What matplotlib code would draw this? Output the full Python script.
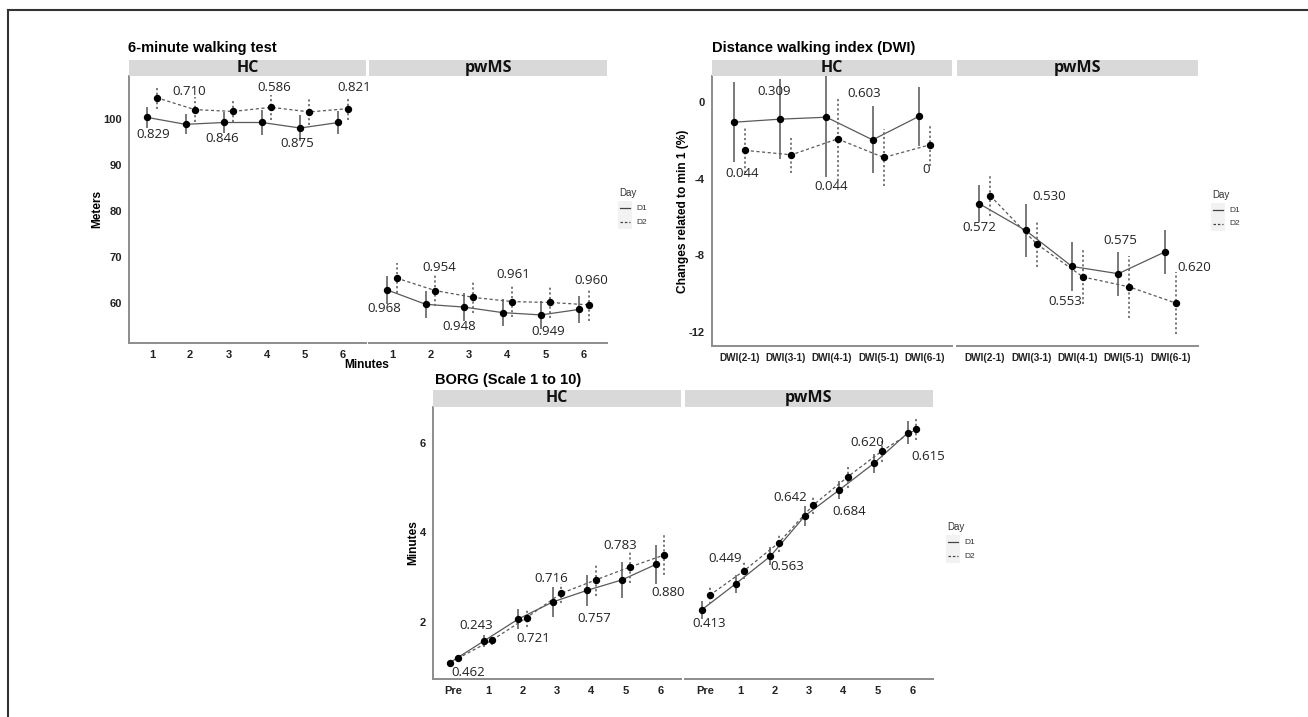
import matplotlib.pyplot as plt
from matplotlib.lines import Line2D
from matplotlib.patches import Rectangle

plt.rcParams['axes.unicode_minus'] = False

W, H = 1308, 717

# 6-minute walking test (meters), D1 / D2 means and error bars
minutes = ['1', '2', '3', '4', '5', '6']
mwt_hc_d1 = [100.3, 98.8, 99.2, 99.2, 98.0, 99.2]
mwt_hc_d1_err = [2.2, 2.2, 2.3, 2.7, 2.9, 2.5]
mwt_hc_d2 = [104.6, 102.0, 101.6, 102.5, 101.5, 102.2]
mwt_hc_d2_err = [2.4, 2.8, 2.3, 2.7, 2.8, 2.5]
mwt_hc_p = ['0.829', '0.710', '0.846', '0.586', '0.875', '0.821']
mwt_ms_d1 = [62.8, 59.7, 59.1, 57.9, 57.4, 58.6]
mwt_ms_d1_err = [3.1, 3.0, 3.1, 3.0, 3.1, 3.0]
mwt_ms_d2 = [65.4, 62.7, 61.2, 60.3, 60.1, 59.6]
mwt_ms_d2_err = [3.3, 3.3, 3.4, 3.3, 3.4, 3.5]
mwt_ms_p = ['0.968', '0.954', '0.948', '0.961', '0.949', '0.960']

# Distance walking index (% change related to min 1)
dwi_cats = ['DWI(2-1)', 'DWI(3-1)', 'DWI(4-1)', 'DWI(5-1)', 'DWI(6-1)']
dwi_hc_d1 = [-1.06, -0.90, -0.80, -1.98, -0.76]
dwi_hc_d1_err = [2.1, 2.1, 3.1, 1.75, 1.55]
dwi_hc_d2 = [-2.53, -2.76, -1.93, -2.90, -2.24]
dwi_hc_d2_err = [1.2, 0.95, 2.2, 1.5, 1.1]
dwi_hc_p = ['0.044', '0.309', '0.044', '0.603', '0']
dwi_ms_d1 = [-5.31, -6.70, -8.58, -8.96, -7.83]
dwi_ms_d1_err = [0.95, 1.4, 1.26, 1.15, 1.14]
dwi_ms_d2 = [-4.90, -7.41, -9.13, -9.65, -10.49]
dwi_ms_d2_err = [1.05, 1.2, 1.4, 1.6, 1.6]
dwi_ms_p = ['0.572', '0.530', '0.553', '0.575', '0.620']

# BORG scale
borg_cats = ['Pre', '1', '2', '3', '4', '5', '6']
borg_hc_d1 = [1.09, 1.58, 2.07, 2.45, 2.71, 2.94, 3.29]
borg_hc_d1_err = [0.05, 0.13, 0.22, 0.33, 0.35, 0.40, 0.43]
borg_hc_d2 = [1.19, 1.60, 2.10, 2.64, 2.94, 3.23, 3.50]
borg_hc_d2_err = [0.03, 0.12, 0.20, 0.22, 0.36, 0.36, 0.45]
borg_hc_p = ['0.462', '0.243', '0.721', '0.716', '0.757', '0.783', '0.880']
borg_ms_d1 = [2.27, 2.86, 3.47, 4.37, 4.95, 5.54, 6.23]
borg_ms_d1_err = [0.19, 0.20, 0.20, 0.23, 0.20, 0.21, 0.26]
borg_ms_d2 = [2.60, 3.15, 3.77, 4.61, 5.24, 5.82, 6.31]
borg_ms_d2_err = [0.20, 0.19, 0.20, 0.20, 0.24, 0.24, 0.25]
borg_ms_p = ['0.413', '0.449', '0.563', '0.642', '0.684', '0.620', '0.615']

# where the p-value labels sit (data coordinates of each facet)
mwt_hc_lab = [(1.03, 96.5), (1.97, 105.9), (2.83, 95.7), (4.19, 106.7), (4.79, 94.6), (6.29, 106.7)]
mwt_ms_lab = [(0.79, 58.7), (2.24, 67.8), (2.76, 54.8), (4.16, 66.1), (5.08, 53.7), (6.18, 64.8)]
dwi_hc_lab = [(1.06, -3.75), (1.75, 0.52), (2.99, -4.43), (3.70, 0.42), (5.03, -3.54)]
dwi_ms_lab = [(0.89, -6.56), (2.38, -4.95), (2.74, -10.42), (3.92, -7.24), (5.52, -8.65)]
borg_hc_lab = [(1.43, 0.88), (1.64, 1.93), (3.32, 1.64), (3.84, 2.98), (5.09, 2.07), (5.84, 3.70), (7.23, 2.65)]
borg_ms_lab = [(1.09, 1.96), (1.58, 3.41), (3.37, 3.23), (3.46, 4.79), (5.18, 4.46), (5.68, 6.00), (7.46, 5.69)]

LINE = '#5a5a5a'
AXIS = '#8c8c8c'
STRIP = '#d9d9d9'
SANS = 'Liberation Sans'
LABF = 'Open Sans'

fig = plt.figure(figsize=(W / 100, H / 100), dpi=100)


def box(l, t, r, b):
    return [l / W, 1 - b / H, (r - l) / W, (b - t) / H]


def fx(px):
    return px / W


def fy(py):
    return 1 - py / H


def facet(l, t, r, b, strip_t, name, cats, d1, e1, d2, e2, pvals, labxy,
          ylim, yticks, first):
    ax = fig.add_axes(box(l, t, r, b))
    n = len(cats)
    x = list(range(1, n + 1))
    x1 = [i - 0.12 for i in x]
    x2 = [i + 0.12 for i in x]
    eb = ax.errorbar(x1, d1, yerr=e1, fmt='none', ecolor='#6e6e6e', elinewidth=1.3)
    ax.plot(x1, d1, color=LINE, lw=0.9)
    eb2 = ax.errorbar(x2, d2, yerr=e2, fmt='none', ecolor='#6e6e6e', elinewidth=1.3)
    eb2[2][0].set_linestyle((0, (1.2, 1.4)))
    ax.plot(x2, d2, color=LINE, lw=0.9, ls=(0, (2.5, 2)))
    ax.plot(x1, d1, 'o', color='black', ms=4.3, zorder=5)
    ax.plot(x2, d2, 'o', color='black', ms=4.3, zorder=5)
    for s, (lx, ly) in zip(pvals, labxy):
        ax.text(lx, ly, s, ha='center', va='center', fontsize=9.5,
                family=LABF, color='#222222')
    ax.set_xlim(0.4, n + 0.6)
    ax.set_ylim(*ylim)
    ax.set_xticks(x)
    ax.set_xticklabels(cats, fontsize=7.2 if n == 5 else 8, fontweight='bold',
                       family=SANS, color='#222222')
    ax.set_yticks(yticks)
    if first:
        ax.set_yticklabels([str(v) for v in yticks], fontsize=8,
                           fontweight='bold', family=SANS, color='#222222')
    else:
        ax.set_yticklabels([])
    ax.tick_params(length=0, pad=5)
    for sp in ['top', 'right']:
        ax.spines[sp].set_visible(False)
    ax.spines['left'].set_visible(first)
    for sp in ['left', 'bottom']:
        ax.spines[sp].set_color(AXIS)
        ax.spines[sp].set_linewidth(1.4)
    # facet strip
    fig.patches.append(Rectangle((fx(l), fy(t)), fx(r) - fx(l), fy(strip_t) - fy(t),
                                 transform=fig.transFigure, facecolor=STRIP,
                                 edgecolor='none'))
    fig.text(fx((l + r) / 2), fy((strip_t + t) / 2), name, ha='center',
             va='center', fontsize=11.5, fontweight='bold', family=LABF,
             color='#111111')
    return ax


def legend(x, y):
    fig.text(fx(x), fy(y), 'Day', fontsize=7, family=SANS, color='#333333',
             va='center', ha='left')
    fig.patches.append(Rectangle((fx(x - 1), fy(y + 36)), fx(14), fy(y + 8) - fy(y + 36),
                                 transform=fig.transFigure, facecolor='#f2f2f2',
                                 edgecolor='none'))
    for k, (lab, ls) in enumerate([('D1', '-'), ('D2', (0, (2, 1.5)))]):
        yy = fy(y + 15 + 14 * k)
        fig.add_artist(Line2D([fx(x + 1), fx(x + 11)], [yy, yy], color='#444444',
                              lw=0.9, ls=ls, transform=fig.transFigure))
        fig.text(fx(x + 17), yy, lab, fontsize=6, family=SANS, color='#333333',
                 va='center', ha='left')


# border (cropped frame)
fig.add_artist(Line2D([fx(8), fx(8)], [fy(10), 0], color='#333333', lw=1.5,
                      transform=fig.transFigure))
fig.add_artist(Line2D([fx(8), 1], [fy(10), fy(10)], color='#333333', lw=1.5,
                      transform=fig.transFigure))

# 6-minute walking test
mwt_ylim = (51.3, 109.3)
mwt_yt = [60, 70, 80, 90, 100]
facet(129, 76, 366, 343, 60, 'HC', minutes, mwt_hc_d1, mwt_hc_d1_err,
      mwt_hc_d2, mwt_hc_d2_err, mwt_hc_p, mwt_hc_lab, mwt_ylim, mwt_yt, True)
facet(369, 76, 607, 343, 60, 'pwMS', minutes, mwt_ms_d1, mwt_ms_d1_err,
      mwt_ms_d2, mwt_ms_d2_err, mwt_ms_p, mwt_ms_lab, mwt_ylim, mwt_yt, False)
fig.text(fx(128), fy(48), '6-minute walking test', fontsize=10.5,
         fontweight='bold', family=SANS, va='center', ha='left')
fig.text(fx(367), fy(365), 'Minutes', fontsize=8.6, fontweight='bold',
         family=SANS, ha='center', va='center')
fig.text(fx(97), fy(209), 'Meters', fontsize=8.6, fontweight='bold',
         family=SANS, ha='center', va='center', rotation=90)
legend(619, 193)

# Distance walking index
dwi_ylim = (-12.73, 1.35)
dwi_yt = [-12, -8, -4, 0]
facet(712, 76, 952, 346, 60, 'HC', dwi_cats, dwi_hc_d1, dwi_hc_d1_err,
      dwi_hc_d2, dwi_hc_d2_err, dwi_hc_p, dwi_hc_lab, dwi_ylim, dwi_yt, True)
facet(957, 76, 1198, 346, 60, 'pwMS', dwi_cats, dwi_ms_d1, dwi_ms_d1_err,
      dwi_ms_d2, dwi_ms_d2_err, dwi_ms_p, dwi_ms_lab, dwi_ylim, dwi_yt, False)
fig.text(fx(712), fy(48), 'Distance walking index (DWI)', fontsize=10.5,
         fontweight='bold', family=SANS, va='center', ha='left')
fig.text(fx(683), fy(211), 'Changes related to min 1 (%)', fontsize=8.6,
         fontweight='bold', family=SANS, ha='center', va='center', rotation=90)
legend(1212, 195)

# BORG
borg_ylim = (0.73, 6.8)
borg_yt = [2, 4, 6]
facet(433, 407, 681, 679, 390, 'HC', borg_cats, borg_hc_d1, borg_hc_d1_err,
      borg_hc_d2, borg_hc_d2_err, borg_hc_p, borg_hc_lab, borg_ylim, borg_yt, True)
facet(685, 407, 933, 679, 390, 'pwMS', borg_cats, borg_ms_d1, borg_ms_d1_err,
      borg_ms_d2, borg_ms_d2_err, borg_ms_p, borg_ms_lab, borg_ylim, borg_yt, False)
fig.text(fx(435), fy(380), 'BORG (Scale 1 to 10)', fontsize=10.5,
         fontweight='bold', family=SANS, va='center', ha='left')
fig.text(fx(413), fy(543), 'Minutes', fontsize=8.6, fontweight='bold',
         family=SANS, ha='center', va='center', rotation=90)
legend(947, 527)

fig.savefig('out.png', dpi=100)
